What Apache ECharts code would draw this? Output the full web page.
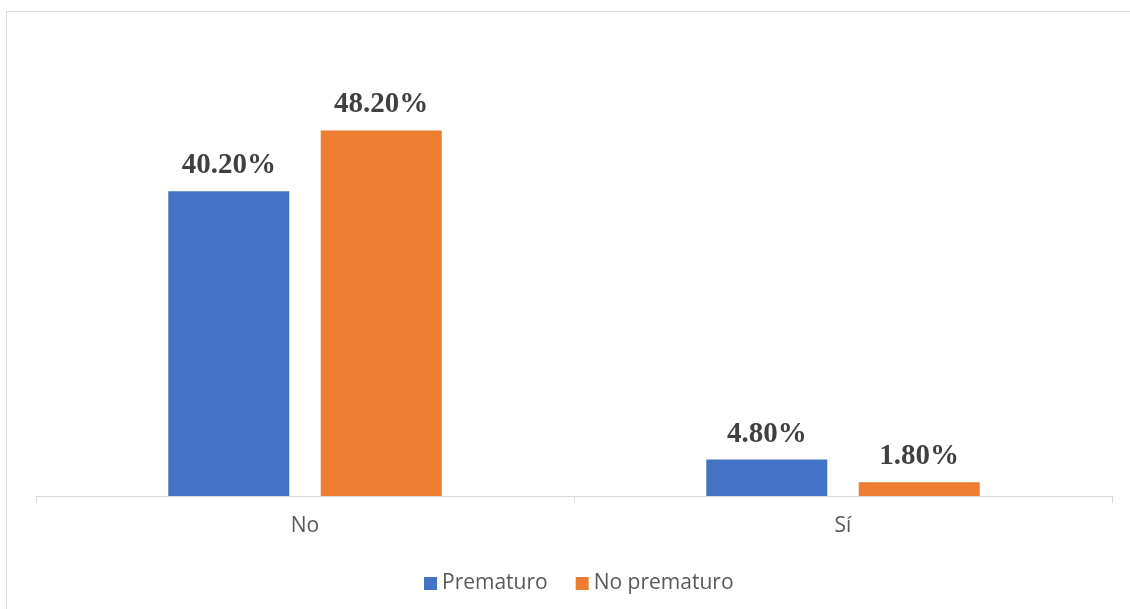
<!DOCTYPE html>
<html>
<head>
<meta charset="utf-8">
<script src="https://cdn.jsdelivr.net/npm/echarts@6/dist/echarts.min.js"></script>
<style>
html,body{margin:0;padding:0;background:#fff;}
#main{width:1130px;height:609px;}
</style>
</head>
<body>
<div id="main"></div>
<script>
var categories = ['No', 'Sí'];
var seriesNames = ['Prematuro', 'No prematuro'];
var prematuro = [40.2, 4.8];
var noPrematuro = [48.2, 1.8];

var chart = echarts.init(document.getElementById('main'));
var labelStyle = {
  show: true,
  position: 'top',
  distance: 11,
  fontFamily: 'Liberation Serif',
  fontWeight: 'bold',
  fontSize: 29,
  color: '#404040',
  formatter: function (p) { return p.value.toFixed(2) + '%'; }
};
chart.setOption({
  animation: false,
  graphic: [{
    type: 'rect',
    shape: { x: 6.5, y: 11.5, width: 1140, height: 620 },
    style: { fill: 'none', stroke: '#d9d9d9', lineWidth: 1 },
    silent: true
  }],
  grid: { left: 36, right: 18, top: 41, bottom: 113 },
  legend: {
    data: seriesNames,
    bottom: 10,
    left: 419,
    icon: 'rect',
    itemWidth: 13,
    itemHeight: 13,
    itemGap: 28,
    textStyle: { fontFamily: 'Open Sans', fontSize: 21, color: '#595959' }
  },
  xAxis: {
    type: 'category',
    data: categories,
    axisLine: { lineStyle: { color: '#d9d9d9', width: 1 } },
    axisTick: { show: true, length: 7, lineStyle: { color: '#d9d9d9' } },
    axisLabel: { fontFamily: 'Open Sans', fontSize: 21, color: '#595959', margin: 20 }
  },
  yAxis: {
    type: 'value',
    min: 0,
    max: 60,
    interval: 10,
    show: false,
    splitLine: { show: false }
  },
  series: [
    {
      name: seriesNames[0],
      type: 'bar',
      data: prematuro,
      barWidth: 121,
      barGap: '26%',
      itemStyle: { color: '#4472c4' },
      label: labelStyle
    },
    {
      name: seriesNames[1],
      type: 'bar',
      data: noPrematuro,
      barWidth: 121,
      itemStyle: { color: '#ed7d31' },
      label: labelStyle
    }
  ]
});
</script>
</body>
</html>
